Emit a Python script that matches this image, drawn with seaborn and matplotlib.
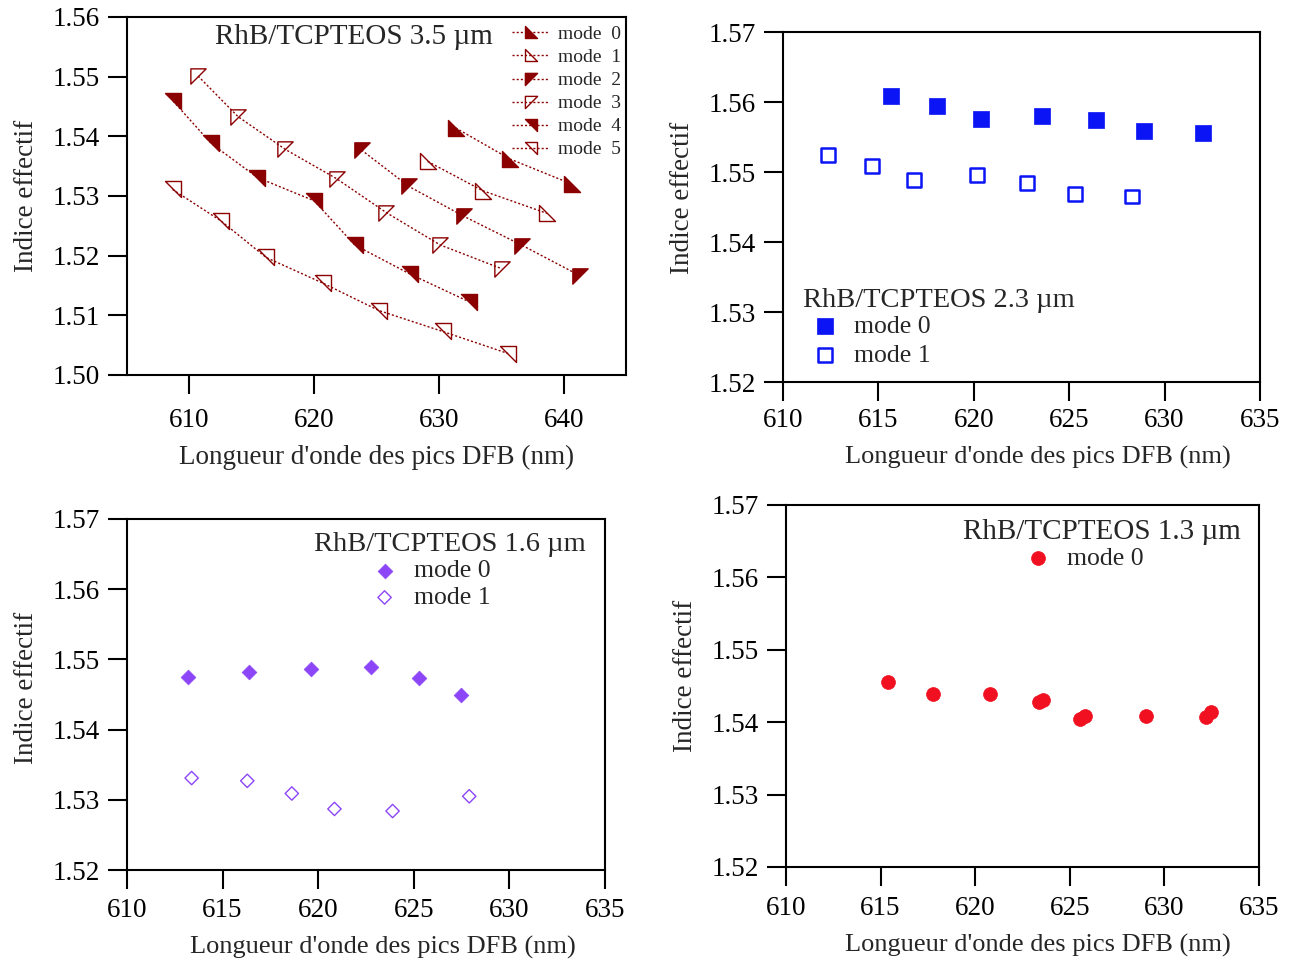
import matplotlib
matplotlib.use("Agg")
import matplotlib.pyplot as plt
from matplotlib.path import Path
import seaborn as sns
import numpy as np

# --- data --------------------------------------------------------------
# top left: RhB/TCPTEOS 3.5 um, six modes
tl_x0 = [631.35, 635.7, 640.65]
tl_y0 = [1.5414, 1.5362, 1.5320]
tl_x1 = [629.1, 633.5, 638.65]
tl_y1 = [1.5358, 1.5309, 1.5271]
tl_x2 = [623.8, 627.6, 632.0, 636.7, 641.35]
tl_y2 = [1.5377, 1.5316, 1.5266, 1.5217, 1.5166]
tl_x3 = [610.7, 613.9, 617.7, 621.8, 625.8, 630.1, 635.05]
tl_y3 = [1.5501, 1.5433, 1.5378, 1.5329, 1.5272, 1.5218, 1.5178]
tl_x4 = [608.7, 611.75, 615.45, 620.0, 623.25, 627.7, 632.4]
tl_y4 = [1.5459, 1.5388, 1.5331, 1.5292, 1.5218, 1.5169, 1.5123]
tl_x5 = [608.65, 612.55, 616.15, 620.7, 625.2, 630.3, 635.55]
tl_y5 = [1.5311, 1.5258, 1.5197, 1.5154, 1.5108, 1.5073, 1.5036]

# top right: 2.3 um
tr_x0 = [615.67, 618.08, 620.38, 623.6, 626.4, 628.9, 632.0]
tr_y0 = [1.5608, 1.5594, 1.5576, 1.5580, 1.5574, 1.5558, 1.5556]
tr_x1 = [612.37, 614.68, 616.88, 620.17, 622.8, 625.3, 628.3]
tr_y1 = [1.5524, 1.5508, 1.5489, 1.5496, 1.5484, 1.5469, 1.5465]

# bottom left: 1.6 um
bl_x0 = [613.2, 616.4, 619.62, 622.77, 625.28, 627.47]
bl_y0 = [1.5475, 1.5482, 1.5486, 1.5489, 1.5473, 1.5450]
bl_x1 = [613.38, 616.29, 618.62, 620.85, 623.89, 627.9]
bl_y1 = [1.5331, 1.5327, 1.5309, 1.5287, 1.5284, 1.5305]

# bottom right: 1.3 um
br_x0 = [615.4, 617.75, 620.76, 623.38, 623.56, 625.56, 625.79, 629.05, 632.18, 632.48]
br_y0 = [1.5456, 1.5439, 1.5439, 1.5428, 1.5431, 1.5405, 1.5408, 1.5408, 1.5407, 1.5414]

DARKRED = "#8B0000"
BLUE = "#0A14F5"
PURPLE = "#8C46F8"
RED = "#F01020"

XLABEL = "Longueur d'onde des pics DFB (nm)"
YLABEL = "Indice effectif"
FS = 19.5
LEG_FS = 18.5


def tri(verts):
    # closed right-triangle marker
    return Path(verts + [verts[0]], closed=True)


TRI_LL = tri([(-1, 1), (-1, -1), (1, -1)])   # ◣
TRI_UL = tri([(-1, 1), (1, 1), (-1, -1)])    # ◤
TRI_UR = tri([(-1, 1), (1, 1), (1, -1)])     # ◥

sns.set_style("ticks")
plt.rcParams['font.family'] = ['Liberation Serif', 'DejaVu Serif']
plt.rcParams['axes.linewidth'] = 1.5
plt.rcParams['axes.edgecolor'] = 'black'

fig = plt.figure(figsize=(12.99, 9.61), dpi=100)
W, H = 1299, 961


def add_axes(left, top, right, bottom):
    return fig.add_axes([left / W, 1 - bottom / H, (right - left) / W, (bottom - top) / H])


ax_tl = add_axes(127, 17, 626, 375)
ax_tr = add_axes(783, 32, 1260, 382)
ax_bl = add_axes(127, 519, 605, 870)
ax_br = add_axes(786, 505, 1259, 867)

# --- top left -----------------------------------------------------------
series = [
    (tl_x0, tl_y0, TRI_LL, True, "mode  0"),
    (tl_x1, tl_y1, TRI_LL, False, "mode  1"),
    (tl_x2, tl_y2, TRI_UL, True, "mode  2"),
    (tl_x3, tl_y3, TRI_UL, False, "mode  3"),
    (tl_x4, tl_y4, TRI_UR, True, "mode  4"),
    (tl_x5, tl_y5, TRI_UR, False, "mode  5"),
]
for xs, ys, mk, filled, lab in series:
    sns.lineplot(x=xs, y=ys, ax=ax_tl, estimator=None, sort=False, color=DARKRED,
                 linestyle=(0, (1.5, 1.5)), linewidth=1.0, marker=mk, markersize=11,
                 markerfacecolor=DARKRED if filled else 'none',
                 markeredgecolor=DARKRED, markeredgewidth=1.0, label=lab)
ax_tl.set_xlim(605, 645)
ax_tl.set_ylim(1.50, 1.56)
ax_tl.set_xticks([610, 620, 630, 640])
ax_tl.set_yticks(np.arange(1.50, 1.5601, 0.01))
ax_tl.text(0.176, 0.944, "RhB/TCPTEOS 3.5 µm", transform=ax_tl.transAxes,
           fontsize=21, ha='left', va='center')
ax_tl.legend(loc='upper right', bbox_to_anchor=(0.99, 0.976), frameon=False,
             fontsize=14, handlelength=1.9, handletextpad=0.45, labelspacing=0.28,
             borderpad=0, borderaxespad=0, markerscale=0.8)

# --- top right ----------------------------------------------------------
sns.scatterplot(x=tr_x0, y=tr_y0, ax=ax_tr, marker='s', s=11 ** 2, color=BLUE,
                edgecolor=BLUE, linewidth=0.5, label="mode 0")
sns.scatterplot(x=tr_x1, y=tr_y1, ax=ax_tr, marker='s', s=10 ** 2, color=BLUE,
                facecolor='none', edgecolor=BLUE, linewidth=1.8, label="mode 1")
ax_tr.set_xlim(610, 635)
ax_tr.set_ylim(1.52, 1.57)
ax_tr.text(0.042, 0.234, "RhB/TCPTEOS 2.3 µm", transform=ax_tr.transAxes,
           fontsize=20.5, ha='left', va='center')
ax_tr.legend(loc='upper left', bbox_to_anchor=(0.062, 0.191), frameon=False,
             fontsize=LEG_FS, handlelength=1.0, handletextpad=0.62, labelspacing=0.22,
             borderpad=0, borderaxespad=0, scatterpoints=1)

# --- bottom left --------------------------------------------------------
sns.scatterplot(x=bl_x0, y=bl_y0, ax=ax_bl, marker='D', s=7.5 ** 2, color=PURPLE,
                edgecolor=PURPLE, linewidth=0.5, label="mode 0")
sns.scatterplot(x=bl_x1, y=bl_y1, ax=ax_bl, marker='D', s=6.8 ** 2, color=PURPLE,
                facecolor='none', edgecolor=PURPLE, linewidth=1.0, label="mode 1")
ax_bl.set_xlim(610, 635)
ax_bl.set_ylim(1.52, 1.57)
ax_bl.text(0.391, 0.926, "RhB/TCPTEOS 1.6 µm", transform=ax_bl.transAxes,
           fontsize=20.5, ha='left', va='center')
ax_bl.legend(loc='upper left', bbox_to_anchor=(0.512, 0.885), frameon=False,
             fontsize=LEG_FS, handlelength=1.0, handletextpad=0.65, labelspacing=0.15,
             borderpad=0, borderaxespad=0, scatterpoints=1)

# --- bottom right -------------------------------------------------------
sns.scatterplot(x=br_x0, y=br_y0, ax=ax_br, marker='o', s=10 ** 2, color=RED,
                edgecolor=RED, linewidth=0.5, label="mode 0")
ax_br.set_xlim(610, 635)
ax_br.set_ylim(1.52, 1.57)
ax_br.text(0.374, 0.925, "RhB/TCPTEOS 1.3 µm", transform=ax_br.transAxes,
           fontsize=21, ha='left', va='center')
ax_br.legend(loc='upper left', bbox_to_anchor=(0.505, 0.885), frameon=False,
             fontsize=LEG_FS, handlelength=1.0, handletextpad=0.65,
             borderpad=0, borderaxespad=0, scatterpoints=1)

for ax in (ax_tr, ax_bl, ax_br):
    ax.set_xticks([610, 615, 620, 625, 630, 635])
    ax.set_yticks(np.arange(1.52, 1.5701, 0.01))

# per-panel tweaks: x tick pad, xlabel size / offset, ylabel centre
panel_fmt = {
    ax_tl: (10, 19.5, 0.5, 0.5),
    ax_tr: (5.5, 19, 0.535, 0.526),
    ax_bl: (7, 19, 0.535, 0.52),
    ax_br: (7.5, 19, 0.532, 0.528),
}
for ax, (xpad, xfs, xlab_x, ylab_y) in panel_fmt.items():
    for side in ('top', 'right', 'left', 'bottom'):
        ax.spines[side].set_visible(True)
        ax.spines[side].set_linewidth(1.5)
        ax.spines[side].set_color('black')
    ax.yaxis.set_major_formatter(matplotlib.ticker.FormatStrFormatter('%.2f'))
    ax.tick_params(axis='both', direction='out', length=13.5, width=1.5,
                   labelsize=FS, colors='black')
    ax.tick_params(axis='x', pad=xpad)
    ax.tick_params(axis='y', pad=6)
    ax.set_xlabel(XLABEL, fontsize=xfs, labelpad=9, x=xlab_x)
    ax.set_ylabel(YLABEL, fontsize=FS, labelpad=10, y=ylab_y)
    ax.grid(False)

fig.savefig("out.png", dpi=100)
plt.close(fig)
